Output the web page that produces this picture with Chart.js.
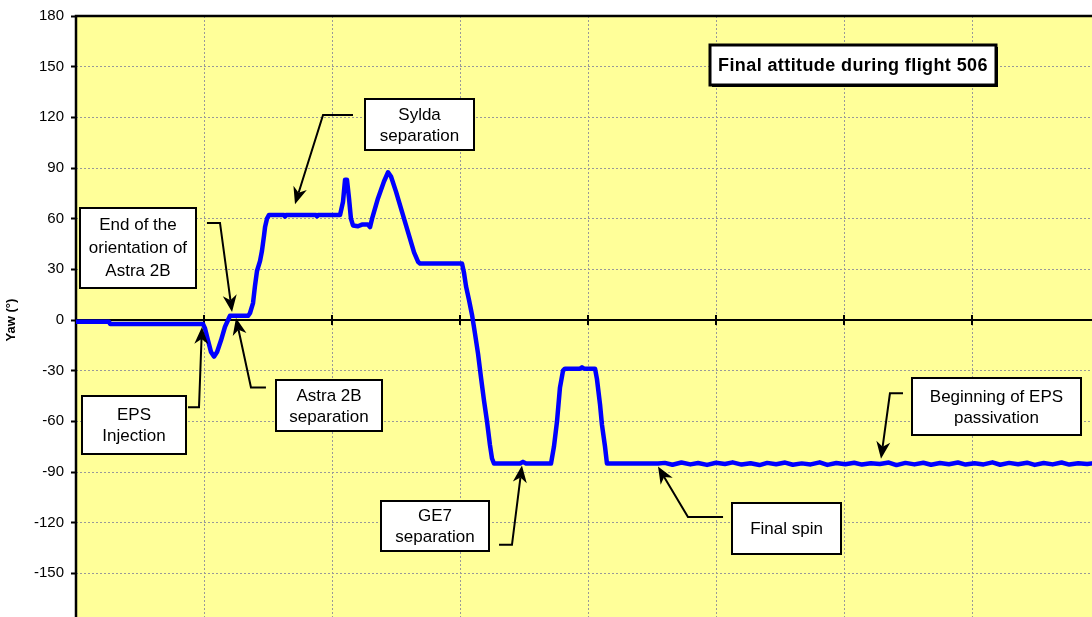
<!DOCTYPE html>
<html>
<head>
<meta charset="utf-8">
<title>Final attitude during flight 506</title>
<script src="https://cdn.jsdelivr.net/npm/chart.js@4.4.1/dist/chart.umd.min.js"></script>
<style>
  html, body { margin: 0; padding: 0; background: #ffffff; overflow: hidden; width: 1092px; height: 617px; }
  #wrap { position: absolute; left: 0; top: 0; width: 1110px; height: 640px; }
</style>
</head>
<body>
<div id="wrap"><canvas id="yawChart"></canvas></div>
<script>
// Flight time, in grid divisions from the start of the record
const timeUnits = [
  0, 0.258, 0.266, 0.992, 1.008, 1.031, 1.055, 1.078, 1.102, 1.133, 1.164, 1.188, 1.203, 1.344,
  1.359, 1.383, 1.398, 1.414, 1.438, 1.453, 1.469, 1.477, 1.492, 1.508, 1.625, 1.633, 1.641, 1.875,
  1.883, 1.891, 2.063, 2.086, 2.102, 2.117, 2.133, 2.148, 2.164, 2.203, 2.234, 2.281, 2.297, 2.313,
  2.359, 2.406, 2.438, 2.461, 2.5, 2.547, 2.594, 2.641, 2.672, 2.688, 3.016, 3.031, 3.047, 3.07,
  3.094, 3.117, 3.141, 3.164, 3.188, 3.211, 3.234, 3.25, 3.266, 3.469, 3.492, 3.516, 3.711, 3.734,
  3.758, 3.781, 3.805, 3.82, 3.938, 3.953, 3.969, 4.055, 4.07, 4.094, 4.109, 4.133, 4.148, 4.547
];
// Yaw angle (degrees) at each of those times
const yawDeg = [
  -1, -1, -2.3, -2.3, -5, -12, -19, -21.7, -19, -12, -4, 0, 2.5, 2.5,
  4, 10, 20, 29, 35, 41, 50, 55, 60, 62.2, 62.2, 61.2, 62.2, 62.2,
  61.4, 62.2, 62.2, 70, 83, 83, 72, 60, 56, 55.5, 56.5, 56.5, 55, 60,
  72, 82, 87.5, 85, 76, 64, 52, 40, 34.5, 33.4, 33.4, 28, 20, 12,
  3, -8, -20, -34, -48, -60, -74, -82, -85, -85, -84, -85, -85, -75,
  -60, -40, -30, -28.8, -28.8, -28, -28.8, -28.8, -35, -50, -62, -75, -85, -85
];
// Final spin: small nutation around -85 degrees
const spinTime = [
  4.60, 4.66, 4.73, 4.80, 4.86, 4.93, 5.00, 5.07, 5.13, 5.20, 5.27, 5.34, 5.40, 5.47, 5.54, 5.60,
  5.67, 5.74, 5.81, 5.87, 5.94, 6.01, 6.08, 6.14, 6.21, 6.28, 6.35, 6.41, 6.48, 6.55, 6.62, 6.68,
  6.75, 6.82, 6.89, 6.95, 7.02, 7.09, 7.16, 7.22, 7.29, 7.36, 7.43, 7.49, 7.56, 7.63, 7.70, 7.76,
  7.83, 7.90, 7.97, 8.00
];
const spinYaw = [
  -84.6, -85.7, -84.4, -85.5, -84.7, -85.8, -84.5, -85.3, -84.3, -85.6, -84.8, -85.9, -84.6, -85.4, -84.4, -85.7,
  -84.9, -85.5, -84.3, -85.8, -84.7, -85.4, -84.5, -85.6, -84.8, -85.3, -84.4, -85.9, -84.6, -85.5, -84.5, -85.7,
  -84.7, -85.4, -84.4, -85.6, -84.8, -85.5, -84.3, -85.7, -84.6, -85.4, -84.5, -85.8, -84.7, -85.5, -84.4, -85.6,
  -84.8, -85.3, -84.6, -85.0
];
// Axis tick labels
const yawTicks = [180, 150, 120, 90, 60, 30, 0, -30, -60, -90, -120, -150, -180];
const timeTicks = [0, 1, 2, 3, 4, 5, 6, 7, 8];

const FONT = "'Liberation Sans', Arial, Helvetica, sans-serif";
Chart.defaults.font.family = FONT;

const points = timeUnits.map((t, i) => ({ x: t, y: yawDeg[i] }))
  .concat(spinTime.map((t, i) => ({ x: t, y: spinYaw[i] })));

// Event call-outs: box centre and leader path in data units, tip last
const callouts = [
  { lines: ['Sylda', 'separation'], at: [2.684, 115.8], w: 109, h: 51,
    leader: [[2.164, 121.4], [1.930, 121.4], [1.711, 68.6]] },
  { lines: ['End of the', 'orientation of', 'Astra 2B'], at: [0.484, 42.8], w: 116, h: 80,
    leader: [[1.023, 57.5], [1.125, 57.5], [1.219, 4.7]] },
  { lines: ['EPS', 'Injection'], at: [0.453, -62.1], w: 104, h: 58,
    leader: [[0.875, -51.6], [0.961, -51.6], [0.984, -4.1]] },
  { lines: ['Astra 2B', 'separation'], at: [1.977, -50.7], w: 106, h: 51,
    leader: [[1.484, -39.9], [1.367, -39.9], [1.25, 1.2]] },
  { lines: ['GE7', 'separation'], at: [2.805, -122], w: 108, h: 50,
    leader: [[3.305, -133.1], [3.406, -133.1], [3.484, -86.2]] },
  { lines: ['Final spin'], at: [5.551, -123.4], w: 109, h: 51,
    leader: [[5.055, -116.7], [4.781, -116.7], [4.547, -86.8]] },
  { lines: ['Beginning of EPS', 'passivation'], at: [7.191, -51.3], w: 169, h: 57,
    leader: [[6.461, -43.4], [6.359, -43.4], [6.289, -82.1]] }
];
const chartTitle = { text: 'Final attitude during flight 506', at: [6.070, 150.7], w: 286, h: 40 };

function arrowHead(ctx, from, tip) {
  const dx = tip.x - from.x, dy = tip.y - from.y;
  const len = Math.hypot(dx, dy) || 1;
  const ux = dx / len, uy = dy / len, nx = -uy, ny = ux;
  const L = 17, W = 7, notch = 5;
  ctx.beginPath();
  ctx.moveTo(tip.x, tip.y);
  ctx.lineTo(tip.x - ux * L + nx * W, tip.y - uy * L + ny * W);
  ctx.lineTo(tip.x - ux * (L - notch), tip.y - uy * (L - notch));
  ctx.lineTo(tip.x - ux * L - nx * W, tip.y - uy * L - ny * W);
  ctx.closePath();
  ctx.fill();
}

const plotFrame = {
  id: 'plotFrame',
  beforeDraw(chart) {
    const { ctx, chartArea: a } = chart;
    ctx.save();
    ctx.fillStyle = '#ffffff';
    ctx.fillRect(0, 0, chart.width, chart.height);
    ctx.fillStyle = '#ffff99';
    ctx.fillRect(a.left, a.top, a.right - a.left, a.bottom - a.top);
    ctx.restore();
  },
  beforeDatasetsDraw(chart) {
    const { ctx, chartArea: a, scales } = chart;
    const y0 = scales.y.getPixelForValue(0);
    ctx.save();
    ctx.strokeStyle = '#000000';
    ctx.lineWidth = 2.5;
    ctx.beginPath();
    ctx.moveTo(a.left, a.bottom);
    ctx.lineTo(a.left, a.top);
    ctx.lineTo(a.right, a.top);
    ctx.stroke();
    ctx.lineWidth = 2;
    ctx.beginPath();
    ctx.moveTo(a.left, y0);
    ctx.lineTo(a.right, y0);
    timeTicks.forEach(t => {
      if (t === 0) return;
      const x = scales.x.getPixelForValue(t);
      ctx.moveTo(x, y0 - 5);
      ctx.lineTo(x, y0 + 5);
    });
    ctx.stroke();
    ctx.restore();
  },
  afterDatasetsDraw(chart) {
    const { ctx, scales } = chart;
    const px = p => ({ x: scales.x.getPixelForValue(p[0]), y: scales.y.getPixelForValue(p[1]) });
    ctx.save();
    ctx.strokeStyle = '#000000';
    ctx.fillStyle = '#000000';
    ctx.lineJoin = 'miter';
    callouts.forEach(c => {
      const path = c.leader.map(px);
      const n = path.length;
      const tip = path[n - 1], prev = path[n - 2];
      const dx = tip.x - prev.x, dy = tip.y - prev.y, len = Math.hypot(dx, dy);
      ctx.lineWidth = 2;
      ctx.beginPath();
      ctx.moveTo(path[0].x, path[0].y);
      for (let i = 1; i < n - 1; i++) ctx.lineTo(path[i].x, path[i].y);
      ctx.lineTo(tip.x - dx / len * 12, tip.y - dy / len * 12);
      ctx.stroke();
      arrowHead(ctx, prev, tip);

      const cc = px(c.at);
      const x = Math.round(cc.x - c.w / 2), y = Math.round(cc.y - c.h / 2);
      ctx.fillStyle = '#ffffff';
      ctx.fillRect(x, y, c.w, c.h);
      ctx.lineWidth = 2;
      ctx.strokeRect(x, y, c.w, c.h);
      ctx.fillStyle = '#000000';
      ctx.font = '17px ' + FONT;
      ctx.textAlign = 'center';
      ctx.textBaseline = 'middle';
      const lh = c.lines.length > 2 ? 23 : 21;
      const top = cc.y - lh * (c.lines.length - 1) / 2;
      c.lines.forEach((s, i) => ctx.fillText(s, cc.x, top + i * lh + 1));
    });

    const tc = px(chartTitle.at);
    const tx = Math.round(tc.x - chartTitle.w / 2), ty = Math.round(tc.y - chartTitle.h / 2);
    ctx.fillStyle = '#000000';
    ctx.fillRect(tx + 2, ty + 2, chartTitle.w, chartTitle.h);
    ctx.fillStyle = '#ffffff';
    ctx.fillRect(tx, ty, chartTitle.w, chartTitle.h);
    ctx.lineWidth = 3;
    ctx.strokeRect(tx, ty, chartTitle.w, chartTitle.h);
    ctx.fillStyle = '#000000';
    ctx.font = 'bold 18px ' + FONT;
    ctx.letterSpacing = '0.4px';
    ctx.textAlign = 'center';
    ctx.textBaseline = 'middle';
    ctx.fillText(chartTitle.text, tc.x, tc.y + 1);
    ctx.restore();
  }
};

new Chart(document.getElementById('yawChart'), {
  type: 'line',
  data: {
    datasets: [{
      label: 'Yaw',
      data: points,
      borderColor: '#0000ff',
      borderWidth: 4.5,
      borderJoinStyle: 'round',
      borderCapStyle: 'round',
      pointRadius: 0,
      tension: 0,
      fill: false
    }]
  },
  options: {
    responsive: true,
    maintainAspectRatio: false,
    devicePixelRatio: 1,
    animation: false,
    events: [],
    layout: { padding: { left: 0, top: 13, right: 10, bottom: 13 } },
    plugins: { legend: { display: false }, tooltip: { enabled: false }, title: { display: false } },
    scales: {
      x: {
        type: 'linear',
        position: { y: 0 },
        min: 0,
        max: 8,
        afterBuildTicks: s => { s.ticks = timeTicks.map(v => ({ value: v })); },
        ticks: { display: false },
        grid: {
          drawTicks: false,
          lineWidth: 1,
          color: ctx => (ctx.tick && ctx.tick.value === 0 ? 'rgba(0,0,0,0)' : '#999999')
        },
        border: { display: false, dash: [2, 2] }
      },
      y: {
        type: 'linear',
        position: 'left',
        min: -180,
        max: 180,
        afterBuildTicks: s => { s.ticks = yawTicks.map(v => ({ value: v })); },
        afterFit: s => { s.width = 76; },
        ticks: { color: '#000000', font: { size: 15 }, padding: 7 },
        grid: {
          lineWidth: 1,
          color: ctx => (ctx.tick && [180, 0, -180].includes(ctx.tick.value) ? 'rgba(0,0,0,0)' : '#999999'),
          tickLength: 5,
          tickWidth: 2,
          tickColor: '#000000',
          tickBorderDash: []
        },
        border: { display: false, dash: [2, 2] },
        title: { display: true, text: 'Yaw (°)', color: '#000000', font: { size: 13, weight: 'bold' }, padding: { top: 4, bottom: 0 } }
      }
    }
  },
  plugins: [plotFrame]
});
</script>
</body>
</html>
